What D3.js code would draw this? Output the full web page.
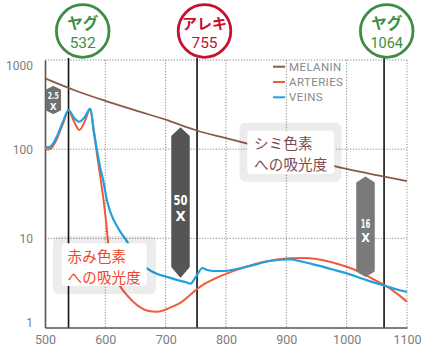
<!DOCTYPE html>
<html><head><meta charset="utf-8">
<script src="https://cdn.jsdelivr.net/npm/d3@7"></script>
<style>
html,body{margin:0;padding:0;background:#fff;}
svg{display:block;}
</style></head>
<body><svg id="chart" width="430" height="357"></svg>
<script>
// ---- data ----
const xTicks = [500, 600, 700, 800, 900, 1000, 1100];
const yTicks = [1, 10, 100, 1000];
const seriesNames = ["MELANIN", "ARTERIES", "VEINS"];

const melaninNm  = [500, 550, 600, 650, 700, 750, 800, 850, 900, 950, 1000, 1050, 1100];
const melaninVal = [622, 455, 348, 272, 214, 163, 133, 109, 90, 73, 60, 51, 44];

const arteriesNm  = [500, 505, 510, 520, 530, 539, 548, 557, 566, 575, 581, 587, 592, 597, 601, 605, 609, 616, 626, 636, 648, 660, 672, 684, 696, 710, 725, 740, 752, 765, 780, 802, 825, 850, 875, 906, 930, 950, 975, 1000, 1020, 1040, 1066, 1085, 1100];
const arteriesVal = [104, 99, 102, 132, 195, 272, 205, 164, 205, 282, 153, 80, 47, 27, 16, 8.5, 5.2, 3.7, 2.8, 2.3, 1.9, 1.65, 1.53, 1.5, 1.55, 1.7, 1.9, 2.3, 2.7, 3.1, 3.5, 4.05, 4.6, 5.2, 5.65, 5.97, 6.0, 5.85, 5.4, 4.8, 4.25, 3.6, 2.9, 2.35, 1.95];

const veinsNm  = [500, 505, 510, 520, 530, 539, 548, 557, 566, 575, 581, 587, 592, 597, 602, 608, 614, 625, 636, 650, 669, 685, 702, 720, 735, 741, 751, 761, 768, 780, 795, 823, 845, 868, 890, 906, 925, 950, 975, 1000, 1033, 1066, 1085, 1100];
const veinsVal = [109, 105, 108, 140, 205, 275, 225, 203, 230, 285, 160, 90, 60, 43, 28, 20, 16, 11.8, 9.2, 6.3, 4.6, 4.0, 3.7, 3.4, 3.2, 3.1, 3.8, 4.65, 4.45, 4.3, 4.3, 4.6, 5.0, 5.5, 5.75, 5.8, 5.5, 5.0, 4.5, 4.05, 3.4, 2.9, 2.65, 2.5];

const laserNames = ["ヤグ", "アレキ", "ヤグ"];
const laserLabels = ["532", "755", "1064"];
const laserLineNm = [539, 752, 1062];   // where the vertical lines are drawn in the picture
const factorLabels = ["2.5", "50", "16"];
const noteMelanin = ["シミ色素", "への吸光度"];
const noteBlood = ["赤み色素", "への吸光度"];

// ---- layout ----
const svg = d3.select("#chart");
const L = 45, R = 407, T = 60, B = 327.5;
const x = d3.scaleLinear().domain([500, 1100]).range([L, R]);
const y = d3.scaleLog().domain([1, 1000]).range([B, T]);
const colors = {MELANIN: "#8c5a44", ARTERIES: "#f15a3a", VEINS: "#21a0da"};
const green = "#3f8d42", red = "#c8102e";

// grid
const grid = svg.append("g");
grid.selectAll(".gx").data(xTicks.slice(1)).join("line")
  .attr("x1", d => x(d)).attr("x2", d => x(d)).attr("y1", T).attr("y2", B)
  .attr("stroke", "#8a8a8a").attr("stroke-width", 1).attr("stroke-dasharray", "1.2,1.6");
grid.selectAll(".gy").data(yTicks.slice(1)).join("line")
  .attr("x1", L).attr("x2", R).attr("y1", d => y(d)).attr("y2", d => y(d))
  .attr("stroke", "#8a8a8a").attr("stroke-width", 1).attr("stroke-dasharray", "1.2,1.6");

// axes
const xAxis = d3.axisBottom(x).tickValues(xTicks).tickSize(0).tickPadding(10).tickFormat(d3.format("d"));
const gx = svg.append("g").attr("transform", `translate(0,${B})`).call(xAxis);
gx.select(".domain").attr("stroke", "#555").attr("stroke-width", 1.6);
gx.selectAll("text").attr("font-family", "Roboto, sans-serif").attr("font-size", 12.5).attr("fill", "#7d7d7d").attr("dy", "0.55em");

const yAxis = d3.axisLeft(y).tickValues(yTicks).tickSize(0).tickPadding(12).tickFormat(d3.format("d"));
const gy = svg.append("g").attr("transform", `translate(${L},0)`).call(yAxis);
gy.select(".domain").attr("stroke", "#555").attr("stroke-width", 1.6);
gy.selectAll("text").attr("font-family", "Roboto, sans-serif").attr("font-size", 12).attr("fill", "#7d7d7d")
  .attr("dy", d => d === 1000 ? "0.75em" : d === 1 ? "-0.05em" : "0.32em");

// laser lines
svg.selectAll(".laser").data(laserLineNm).join("line")
  .attr("x1", d => x(d)).attr("x2", d => x(d)).attr("y1", T - 2).attr("y2", B)
  .attr("stroke", "#111").attr("stroke-width", 1.6);

// series lines
const line = d3.line().x(d => x(d[0])).y(d => y(d[1])).curve(d3.curveMonotoneX);
const zip = (a, b) => a.map((v, i) => [v, b[i]]);
svg.append("path").datum(zip(melaninNm, melaninVal)).attr("d", line)
  .attr("fill", "none").attr("stroke", colors.MELANIN).attr("stroke-width", 1.8);
svg.append("path").datum(zip(arteriesNm, arteriesVal)).attr("d", line)
  .attr("fill", "none").attr("stroke", colors.ARTERIES).attr("stroke-width", 2);
svg.append("path").datum(zip(veinsNm, veinsVal)).attr("d", line)
  .attr("fill", "none").attr("stroke", colors.VEINS).attr("stroke-width", 2.2);

// legend
const lg = svg.append("g");
seriesNames.forEach((n, i) => {
  const yy = 66.7 + i * 15.3;
  lg.append("line").attr("x1", 273).attr("x2", 285).attr("y1", yy).attr("y2", yy)
    .attr("stroke", colors[n]).attr("stroke-width", 2);
  lg.append("text").attr("x", 289).attr("y", yy).attr("dy", "0.36em").text(n)
    .attr("font-family", "Roboto, sans-serif").attr("font-size", 11.5).attr("letter-spacing", 0.4).attr("fill", "#8a8a8a");
});

// note boxes
function note(hx, hy, hw, hh, bx, by, bw, bh, lines, color, tx, ty) {
  const g = svg.append("g");
  g.append("rect").attr("x", hx).attr("y", hy).attr("width", hw).attr("height", hh).attr("rx", 6)
    .attr("fill", "rgba(0,0,0,0.075)");
  g.append("rect").attr("x", bx).attr("y", by).attr("width", bw).attr("height", bh).attr("rx", 4)
    .attr("fill", "#fff");
  const t = g.append("text").attr("font-family", "'Noto Sans CJK JP', sans-serif")
    .attr("font-size", 14.5).attr("fill", color).attr("letter-spacing", 0.2);
  lines.forEach((s, i) => t.append("tspan").attr("x", tx).attr("y", ty + i * 21).text(s));
}
note(239.5, 122.7, 102, 59, 247.3, 130.7, 87, 43.3, noteMelanin, "#7b4b50", 254, 148.5);
note(53, 236, 103, 58, 61.7, 243.3, 85, 42.7, noteBlood, "#f0452a", 67.5, 261.5);

// factor badges
function badge(cx, top, bot, w, tipT, tipB, fill, label, fs, ly1, ly2, tl) {
  const pts = [[cx, top], [cx + w / 2, top + tipT], [cx + w / 2, bot - tipB], [cx, bot], [cx - w / 2, bot - tipB], [cx - w / 2, top + tipT]];
  svg.append("path").attr("d", "M" + pts.map(p => p.join(",")).join("L") + "Z")
    .attr("fill", fill).attr("stroke", fill).attr("stroke-width", 1.5).attr("stroke-linejoin", "round");
  const f = "'Liberation Sans Narrow', 'DejaVu Sans Condensed', sans-serif";
  svg.append("text").attr("x", cx).attr("y", ly1).attr("text-anchor", "middle").text(label)
    .attr("font-family", f).attr("font-weight", "bold").attr("font-size", fs).attr("fill", "#fff")
    .attr("textLength", tl).attr("lengthAdjust", "spacingAndGlyphs");
  svg.append("text").attr("x", cx).attr("y", ly2).attr("text-anchor", "middle").text("X")
    .attr("font-family", f).attr("font-weight", "bold").attr("font-size", fs).attr("fill", "#fff");
}
badge(53.3, 86.7, 113.3, 14, 3.5, 3.5, "#707070", factorLabels[0], 9.4, 98.8, 109.5, 11);
badge(180.5, 128.3, 276.7, 17, 8, 10, "#555", factorLabels[1], 14.7, 204.5, 221, 14);
badge(365.5, 177.3, 276, 17, 5.5, 5, "#7a7a7a", factorLabels[2], 12.5, 227.5, 241.5, 9.5);

// laser circles
const circX = [82.7, 204.5, 386.7];
laserNames.forEach((n, i) => {
  const c = i === 1 ? red : green;
  svg.append("circle").attr("cx", circX[i]).attr("cy", 31).attr("r", 26.3)
    .attr("fill", "#fff").attr("stroke", c).attr("stroke-width", 2.8);
  svg.append("text").attr("x", circX[i]).attr("y", 28.5).attr("text-anchor", "middle").text(n)
    .attr("fill", c).attr("font-family", "'Noto Sans CJK JP', sans-serif").attr("font-weight", "bold")
    .attr("font-size", i === 1 ? 15 : 15.5);
  svg.append("text").attr("x", circX[i]).attr("y", 47.5).attr("text-anchor", "middle").text(laserLabels[i])
    .attr("fill", c).attr("font-family", "Roboto, sans-serif").attr("font-size", i === 2 ? 14.5 : 15.5);
});
</script></body></html>
